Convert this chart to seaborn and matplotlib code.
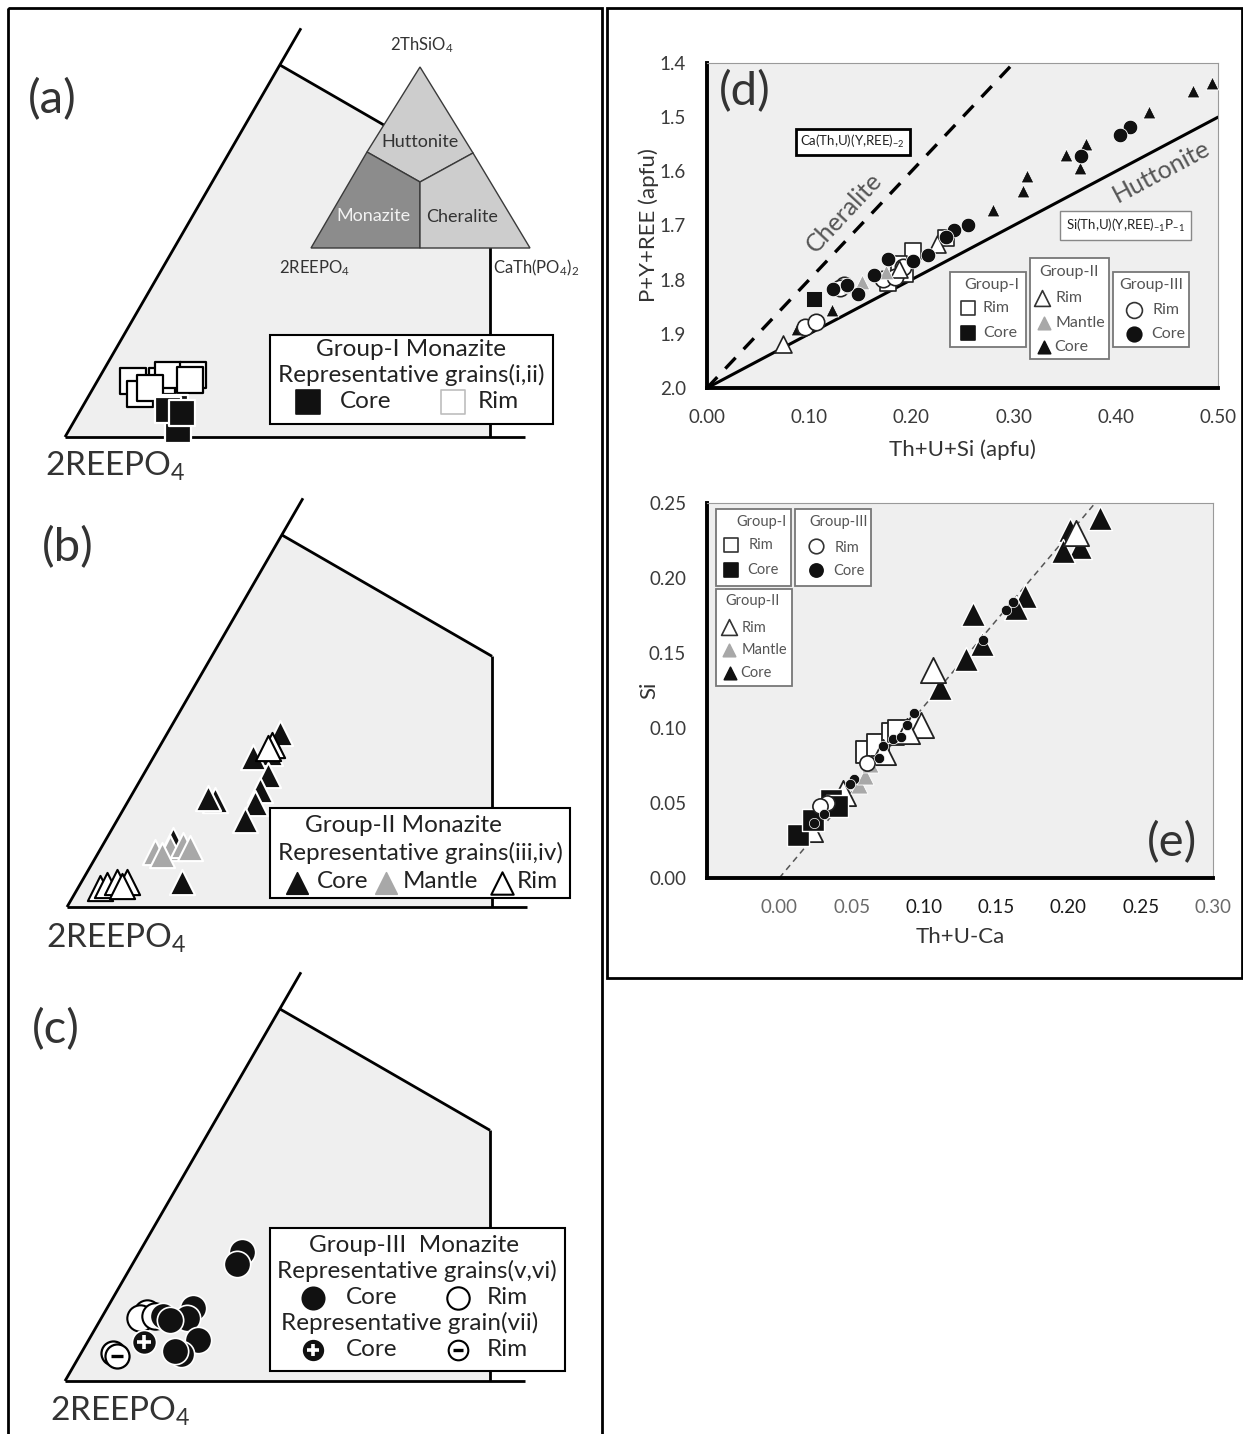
import numpy as np
import pandas as pd
import matplotlib
matplotlib.use("Agg")
import matplotlib.pyplot as plt
from matplotlib.patches import Rectangle, Polygon
import seaborn as sns

sns.set_style("white")
plt.rcParams["font.family"] = ["Lato", "DejaVu Sans"]
plt.rcParams["mathtext.fontset"] = "custom"
plt.rcParams["mathtext.rm"] = "Lato"
plt.rcParams["mathtext.it"] = "Lato:italic"
plt.rcParams["mathtext.bf"] = "Lato:bold"

# ---------------------------------------------------------------------------
# Ternary compositions (mol %): ThSiO4 and CaTh(PO4)2, remainder 2REEPO4
# ---------------------------------------------------------------------------
# (a) Group-I
a_rim_thsio4 = [7.03, 5.39, 7.03, 7.78, 7.78, 7.16, 6.15]
a_rim_cath = [3.87, 5.45, 7.03, 7.31, 10.02, 10.01, 6.16]
a_core_thsio4 = [3.64, 0.88, 3.39, 3.01]
a_core_cath = [10.14, 11.84, 9.50, 11.21]

# (b) Group-II
b_core_thsio4 = [21.84, 19.33, 18.83, 16.57, 14.69, 13.05, 10.92, 13.43, 13.68, 3.14, 8.41]
b_core_cath = [12.23, 12.40, 10.81, 13.56, 13.63, 13.91, 13.89, 9.37, 8.49, 10.93, 7.32]
b_mantle_thsio4 = [6.90, 7.40, 7.78, 7.40, 6.52]
b_mantle_cath = [6.12, 7.50, 8.72, 9.67, 7.07]
b_rim_thsio4 = [20.33, 19.95, 2.39, 2.76, 3.14, 3.14, 2.64]
b_rim_cath = [12.12, 11.87, 2.39, 2.97, 3.86, 4.95, 4.66]

# (c) Group-III
c_core_thsio4 = [16.19, 14.69, 9.16, 7.91, 8.16, 5.15, 3.39, 3.76, 7.66]
c_core_cath = [11.15, 11.35, 9.33, 9.30, 6.57, 11.88, 10.92, 10.08, 7.58]
c_rim_thsio4 = [8.54, 7.91, 8.16]
c_rim_cath = [4.64, 4.20, 5.70]
c_vii_core_thsio4 = [4.90]
c_vii_core_cath = [6.14]
c_vii_rim_thsio4 = [3.51, 3.14]
c_vii_rim_cath = [3.47, 4.08]

# ---------------------------------------------------------------------------
# (d) Th+U+Si vs P+Y+REE (apfu)
# ---------------------------------------------------------------------------
d_g1_rim_x = [0.202, 0.177, 0.194, 0.188, 0.234]
d_g1_rim_y = [1.748, 1.807, 1.789, 1.772, 1.724]
d_g1_core_x = [0.105]
d_g1_core_y = [1.835]
d_g2_rim_x = [0.074, 0.225, 0.188]
d_g2_rim_y = [1.919, 1.735, 1.780]
d_g2_mantle_x = [0.152, 0.175, 0.140]
d_g2_mantle_y = [1.804, 1.785, 1.812]
d_g2_core_x = [0.494, 0.476, 0.432, 0.371, 0.351, 0.365, 0.313, 0.309, 0.280, 0.122, 0.088]
d_g2_core_y = [1.437, 1.451, 1.491, 1.550, 1.570, 1.593, 1.608, 1.637, 1.671, 1.856, 1.891]
d_g3_rim_x = [0.096, 0.107, 0.134, 0.172, 0.184, 0.192, 0.130]
d_g3_rim_y = [1.887, 1.878, 1.809, 1.798, 1.796, 1.776, 1.815]
d_g3_core_x = [0.414, 0.404, 0.366, 0.255, 0.242, 0.234, 0.216, 0.202, 0.177, 0.163, 0.148, 0.137, 0.123]
d_g3_core_y = [1.519, 1.533, 1.571, 1.700, 1.708, 1.721, 1.755, 1.765, 1.761, 1.791, 1.826, 1.809, 1.817]

# ---------------------------------------------------------------------------
# (e) Th+U-Ca vs Si
# ---------------------------------------------------------------------------
e_g2_core_x = [0.222, 0.201, 0.208, 0.196, 0.170, 0.164, 0.134, 0.140, 0.129, 0.111]
e_g2_core_y = [0.240, 0.232, 0.221, 0.218, 0.188, 0.180, 0.176, 0.156, 0.146, 0.127]
e_g2_rim_x = [0.106, 0.205, 0.093, 0.098, 0.088, 0.044, 0.021, 0.072]
e_g2_rim_y = [0.139, 0.230, 0.104, 0.102, 0.098, 0.057, 0.033, 0.084]
e_g2_mantle_x = [0.055, 0.059, 0.063]
e_g2_mantle_y = [0.062, 0.068, 0.076]
e_g1_rim_x = [0.061, 0.068, 0.079, 0.083]
e_g1_rim_y = [0.084, 0.089, 0.096, 0.098]
e_g1_core_x = [0.013, 0.036, 0.023, 0.040]
e_g1_core_y = [0.029, 0.052, 0.039, 0.048]
e_g3_rim_x = [0.033, 0.028, 0.061]
e_g3_rim_y = [0.050, 0.048, 0.077]
e_g3_core_x = [0.162, 0.157, 0.141, 0.093, 0.088, 0.079, 0.084, 0.072, 0.069, 0.052, 0.049, 0.031, 0.024]
e_g3_core_y = [0.184, 0.179, 0.159, 0.110, 0.102, 0.093, 0.094, 0.088, 0.080, 0.066, 0.063, 0.043, 0.037]

# ---------------------------------------------------------------------------
W, H = 1243, 1434
fig = plt.figure(figsize=(W / 100, H / 100), dpi=100)


def rect(l, t, r, b):
    return [l / W, 1 - b / H, (r - l) / W, (b - t) / H]


SCALE = 9.2             # pixels per mol %
SQ3 = np.sqrt(3) / 2
BLACK = "#111111"
GREY_MK = "#a8a8a8"
REEPO4 = r"2REEPO$_\mathregular{4}$"


def to_cart(thsio4, cath):
    b = np.asarray(thsio4, float)
    c = np.asarray(cath, float)
    return c + b / 2, b * SQ3


def ternary_axes(x0, y0, top, bottom, left=12, right=600):
    ax = fig.add_axes(rect(left, top, right, bottom))
    edge_top, cut_b, cut_x, base_end = 51.3, 46.7, 46.2, 50.0
    tx, ty = edge_top / 2, edge_top * SQ3
    cx, cy = cut_b / 2, cut_b * SQ3
    ey = cy - (cut_x - cx) * np.tan(np.radians(30))
    ax.add_patch(Polygon([(0, 0), (cx, cy), (cut_x, ey), (cut_x, 0)],
                         closed=True, fc="#efefef", ec="none", zorder=0))
    kw = dict(color="black", lw=2.0, solid_capstyle="butt", zorder=1)
    ax.plot([0, tx], [0, ty], **kw)
    ax.plot([cx, cut_x], [cy, ey], **kw)
    ax.plot([cut_x, cut_x], [ey, 0], **kw)
    ax.plot([0, base_end], [0, 0], **kw)
    ax.lims = ((left - x0) / SCALE, (right - x0) / SCALE,
               (y0 - bottom) / SCALE, (y0 - top) / SCALE)
    return ax


def finish_ternary(ax):
    ax.set_xlim(ax.lims[0], ax.lims[1])
    ax.set_ylim(ax.lims[2], ax.lims[3])
    ax.axis("off")


def tern_scatter(ax, thsio4, cath, zorder=3, **kw):
    x, y = to_cart(thsio4, cath)
    df = pd.DataFrame({"x": x, "y": y})
    sns.scatterplot(data=df, x="x", y="y", ax=ax, legend=False, zorder=zorder, **kw)
    return x, y


# ---- (a) ----
axa = ternary_axes(65, 437, 10, 480)
tern_scatter(axa, a_rim_thsio4, a_rim_cath, marker="s", s=330, color="white",
             edgecolor="black", linewidth=1.6)
tern_scatter(axa, a_core_thsio4, a_core_cath, marker="s", s=330, color=BLACK,
             edgecolor="white", linewidth=1.6)
finish_ternary(axa)

# ---- (b) ----
axb = ternary_axes(67, 907, 490, 950)
tern_scatter(axb, b_core_thsio4, b_core_cath, marker="^", s=330, color=BLACK,
             edgecolor="white", linewidth=1.5)
tern_scatter(axb, b_mantle_thsio4, b_mantle_cath, marker="^", s=330, color=GREY_MK,
             edgecolor="white", linewidth=1.5)
tern_scatter(axb, b_rim_thsio4, b_rim_cath, marker="^", s=330, color="white",
             edgecolor="black", linewidth=1.5)
finish_ternary(axb)

# ---- (c) ----
axc = ternary_axes(65, 1381, 960, 1425)
tern_scatter(axc, c_rim_thsio4, c_rim_cath, marker="o", s=360, color="white",
             edgecolor="black", linewidth=1.5)
tern_scatter(axc, c_core_thsio4, c_core_cath, marker="o", s=360, color=BLACK,
             edgecolor="white", linewidth=1.2)
px_, py_ = tern_scatter(axc, c_vii_core_thsio4, c_vii_core_cath, marker="o", s=300,
                        color=BLACK, edgecolor="white", linewidth=1.2, zorder=5)
axc.scatter(px_, py_, marker="+", s=110, color="white", linewidths=2.6, zorder=6)
# grain (vii) rims: each circle carries its own minus sign
for i, (bb, cc) in enumerate(zip(c_vii_rim_thsio4, c_vii_rim_cath)):
    mx_, my_ = tern_scatter(axc, [bb], [cc], marker="o", s=300, color="white",
                            edgecolor="black", linewidth=1.6, zorder=5 + 2 * i)
    axc.scatter(mx_, my_, marker="_", s=70, color="black", linewidths=2.4,
                zorder=6 + 2 * i)
finish_ternary(axc)


# ---------------------------------------------------------------------------
def style_axes(ax):
    for s in ("left", "bottom"):
        ax.spines[s].set_color("black")
        ax.spines[s].set_linewidth(2.8)
    for s in ("top", "right"):
        ax.spines[s].set_color("#9a9a9a")
        ax.spines[s].set_linewidth(0.8)
    ax.tick_params(direction="inout", length=12, width=2.8, color="black",
                   labelsize=13.5, labelcolor="#3a3a3a", pad=9)
    ax.tick_params(top=False, right=False)
    ax.set_facecolor("#efefef")


def xy_scatter(ax, xs, ys, **kw):
    df = pd.DataFrame({"x": xs, "y": ys})
    sns.scatterplot(data=df, x="x", y="y", ax=ax, legend=False, zorder=3,
                    clip_on=False, **kw)


# ---- (d) ----
axd = fig.add_axes(rect(707, 63, 1218, 388))
axd.plot([0, 0.5], [2.0, 1.5], color="black", lw=2.2, zorder=2)
axd.plot([0, 0.3], [2.0, 1.4], color="black", lw=2.4, ls=(0, (4.5, 3.5)), zorder=2)
xy_scatter(axd, d_g2_core_x, d_g2_core_y, marker="^", s=85, color=BLACK,
           edgecolor="white", linewidth=0.6)
xy_scatter(axd, d_g1_rim_x, d_g1_rim_y, marker="s", s=140, color="white",
           edgecolor="#222", linewidth=1.2)
xy_scatter(axd, d_g3_rim_x, d_g3_rim_y, marker="o", s=140, color="white",
           edgecolor="#222", linewidth=1.2)
xy_scatter(axd, d_g2_rim_x, d_g2_rim_y, marker="^", s=150, color="white",
           edgecolor="#222", linewidth=1.2)
xy_scatter(axd, d_g2_mantle_x, d_g2_mantle_y, marker="^", s=110, color=GREY_MK,
           edgecolor="white", linewidth=0.6)
xy_scatter(axd, d_g1_core_x, d_g1_core_y, marker="s", s=120, color=BLACK,
           edgecolor="white", linewidth=0.6)
xy_scatter(axd, d_g3_core_x, d_g3_core_y, marker="o", s=110, color=BLACK,
           edgecolor="white", linewidth=0.6)
axd.set_xlim(0, 0.5)
axd.set_ylim(2.0, 1.4)
axd.set_xticks(np.arange(0, 0.501, 0.1))
axd.set_xticklabels([f"{v:.2f}" for v in np.arange(0, 0.501, 0.1)])
axd.set_yticks(np.arange(1.4, 2.001, 0.1))
axd.set_yticklabels([f"{v:.1f}" for v in np.arange(1.4, 2.001, 0.1)])
style_axes(axd)
axd.set_xlabel("Th+U+Si (apfu)", fontsize=16, color="#333", labelpad=10)
axd.set_ylabel("P+Y+REE (apfu)", fontsize=16, color="#333")
axd.yaxis.set_label_coords(-0.094, 0.5)
axd.text(0.1345, 1.677, "Cheralite", rotation=47, fontsize=18, color="#555",
         ha="center", va="center")
axd.text(0.445, 1.600, "Huttonite", rotation=28, fontsize=18, color="#555",
         ha="center", va="center")
axd.text(0.1424, 1.5455, r"Ca(Th,U)(Y,REE)$_{\mathregular{-2}}$", fontsize=9.5,
         color="#222", ha="center", va="center",
         bbox=dict(boxstyle="square,pad=0.35", fc="white", ec="black", lw=2))
axd.text(0.4096, 1.700, r"Si(Th,U)(Y,REE)$_{\mathregular{-1}}$P$_{\mathregular{-1}}$",
         fontsize=9.5, color="#222", ha="center", va="center",
         bbox=dict(boxstyle="square,pad=0.45", fc="white", ec="#888", lw=1))

# ---- (e) ----
axe = fig.add_axes(rect(707, 503, 1213, 878))
axe.plot([0.0, 0.2185], [0.0, 0.25], color="#555", lw=1.1, ls=(0, (4, 3)), zorder=2)
xy_scatter(axe, e_g2_core_x, e_g2_core_y, marker="^", s=300, color=BLACK,
           edgecolor="white", linewidth=1.0)
xy_scatter(axe, e_g1_rim_x, e_g1_rim_y, marker="s", s=260, color="white",
           edgecolor="#222", linewidth=1.3)
xy_scatter(axe, e_g2_rim_x, e_g2_rim_y, marker="^", s=330, color="white",
           edgecolor="#222", linewidth=1.3)
xy_scatter(axe, e_g1_core_x, e_g1_core_y, marker="s", s=260, color=BLACK,
           edgecolor="white", linewidth=1.0)
xy_scatter(axe, e_g2_mantle_x, e_g2_mantle_y, marker="^", s=150, color=GREY_MK,
           edgecolor="white", linewidth=0.6)
xy_scatter(axe, e_g3_rim_x, e_g3_rim_y, marker="o", s=120, color="white",
           edgecolor="#222", linewidth=1.2)
xy_scatter(axe, e_g3_core_x, e_g3_core_y, marker="o", s=55, color=BLACK,
           edgecolor="white", linewidth=0.5)
axe.set_xlim(-0.05, 0.30)
axe.set_ylim(0, 0.25)
xt = np.arange(-0.05, 0.301, 0.05)
axe.set_xticks(xt)
axe.set_xticklabels([""] + [f"{v:.2f}" for v in xt[1:]])
axe.set_yticks(np.arange(0, 0.251, 0.05))
axe.set_yticklabels([f"{v:.2f}" for v in np.arange(0, 0.251, 0.05)])
style_axes(axe)
for lab in axe.get_xticklabels():
    if lab.get_text() in ("0.00", "0.05", "0.30"):
        lab.set_color("#6a6a6a")
    else:
        lab.set_color("#1a1a1a")
axe.set_xlabel("Th+U-Ca", fontsize=16, color="#333", labelpad=8)
axe.set_ylabel("Si", fontsize=16, color="#333")
axe.yaxis.set_label_coords(-0.095, 0.5)

# ---------------------------------------------------------------------------
# Frames, inset, legends and panel letters
# ---------------------------------------------------------------------------
cv = fig.add_axes([0, 0, 1, 1])
cv.set_xlim(0, W)
cv.set_ylim(H, 0)
cv.axis("off")
cv.set_zorder(10)
cv.patch.set_alpha(0)

cv.add_patch(Rectangle((8, 8), 594, 1440, fill=False, ec="black", lw=2))
cv.add_patch(Rectangle((607, 8), 635, 970, fill=False, ec="black", lw=2))


def box(l, t, r, b, ec="black", lw=1.5):
    cv.add_patch(Rectangle((l, t), r - l, b - t, fc="white", ec=ec, lw=lw, zorder=2))


def key(x, y, marker, fc, ec, s, lw=1.2):
    cv.scatter([x], [y], marker=marker, s=s, c=[fc], edgecolors=[ec],
               linewidths=lw, zorder=3)


def txt(x, y, t, size, ha="left", color="#222", **kw):
    cv.text(x, y, t, fontsize=size, ha=ha, va="center", color=color, zorder=4, **kw)


# inset classification triangle
T, BL, BR = (420, 67), (311, 248), (530, 248)
ML, MR, G, MB = (367, 152), (473, 153), (420, 182), (420, 248)
for pts, col in (([T, MR, G, ML], "#cdcdcd"), ([BL, ML, G, MB], "#8c8c8c"),
                 ([BR, MB, G, MR], "#cdcdcd")):
    cv.add_patch(Polygon(pts, closed=True, fc=col, ec="#3a3a3a", lw=1.0, zorder=2))
txt(420, 142, "Huttonite", 13, "center", "#333")
txt(373, 216, "Monazite", 13, "center", "#f2f2f2")
txt(462, 217, "Cheralite", 13, "center", "#333")
txt(422, 45, r"2ThSiO$_\mathregular{4}$", 12, "center", "#333")
txt(315, 268, REEPO4, 12, "center", "#333")
txt(493, 268, r"CaTh(PO$_\mathregular{4}$)$_\mathregular{2}$", 12, "left", "#333")

# panel letters and apex labels
txt(52, 100, "(a)", 34, "center", "#333")
txt(68, 548, "(b)", 34, "center", "#333")
txt(56, 1030, "(c)", 34, "center", "#333")
txt(745, 92, "(d)", 34, "center", "#333")
txt(1172, 843, "(e)", 34, "center", "#333")
txt(45, 466, REEPO4, 24, "left", "#333")
txt(46, 938, REEPO4, 24, "left", "#333")
txt(50, 1411, REEPO4, 24, "left", "#333")

# (a) legend
FS = 17.5
box(270, 335, 553, 424)
txt(411, 349, "Group-I Monazite", FS, "center")
txt(411, 375, "Representative grains(i,ii)", FS, "center")
key(308, 402, "s", BLACK, BLACK, 300)
txt(340, 402, "Core", FS)
key(453, 402, "s", "white", "#bdbdbd", 300)
txt(478, 402, "Rim", FS)

# (b) legend
box(270, 808, 570, 898)
txt(403, 825, "Group-II Monazite", FS, "center")
txt(420, 853, "Representative grains(iii,iv)", FS, "center")
key(297, 883, "^", BLACK, BLACK, 240)
txt(317, 882, "Core", FS)
key(386, 883, "^", GREY_MK, GREY_MK, 240)
txt(403, 882, "Mantle", FS)
key(502, 883, "^", "white", "black", 260, 1.5)
txt(517, 882, "Rim", FS)

# (c) legend
box(270, 1228, 565, 1371)
txt(414, 1245, "Group-III  Monazite", FS, "center")
txt(417, 1271, "Representative grains(v,vi)", FS, "center")
key(313, 1298, "o", BLACK, BLACK, 260)
txt(346, 1298, "Core", FS)
key(458, 1298, "o", "white", "black", 260, 1.5)
txt(487, 1298, "Rim", FS)
txt(410, 1323, "Representative grain(vii)", FS, "center")
key(313, 1350, "o", BLACK, BLACK, 200)
cv.scatter([313], [1350], marker="+", s=80, color="white", linewidths=2.6, zorder=4)
txt(346, 1350, "Core", FS)
key(458, 1350, "o", "white", "black", 200, 1.5)
cv.scatter([458], [1350], marker="_", s=55, color="black", linewidths=2.4, zorder=4)
txt(487, 1350, "Rim", FS)

# (d) legends
LG = "#555"
box(950, 272, 1026, 347, ec="#777", lw=1.3)
txt(992, 285, "Group-I", 11.5, "center", LG)
key(968, 308, "s", "white", "#333", 110)
txt(983, 308, "Rim", 11.5, color=LG)
key(968, 333, "s", BLACK, BLACK, 110)
txt(983, 333, "Core", 11.5, color=LG)
box(1030, 258, 1109, 359, ec="#777", lw=1.3)
txt(1069, 272, "Group-II", 11.5, "center", LG)
key(1042, 298, "^", "white", "#333", 130)
txt(1056, 298, "Rim", 11.5, color=LG)
key(1044, 323, "^", GREY_MK, GREY_MK, 80)
txt(1056, 323, "Mantle", 11.5, color=LG)
key(1044, 347, "^", BLACK, BLACK, 80)
txt(1054, 347, "Core", 11.5, color=LG)
box(1113, 272, 1189, 347, ec="#777", lw=1.3)
txt(1151, 285, "Group-III", 11.5, "center", LG)
key(1134, 310, "o", "white", "#333", 130)
txt(1153, 310, "Rim", 11.5, color=LG)
key(1134, 334, "o", BLACK, BLACK, 110)
txt(1151, 334, "Core", 11.5, color=LG)

# (e) legends
box(716, 509, 791, 586, ec="#777", lw=1.3)
txt(762, 522, "Group-I", 10.5, "center", LG)
key(731, 545, "s", "white", "#333", 110)
txt(749, 545, "Rim", 10.5, color=LG)
key(731, 570, "s", BLACK, BLACK, 110)
txt(747, 570, "Core", 10.5, color=LG)
box(795, 509, 871, 586, ec="#777", lw=1.3)
txt(839, 522, "Group-III", 10.5, "center", LG)
key(816, 546, "o", "white", "#333", 110)
txt(835, 548, "Rim", 10.5, color=LG)
key(816, 570, "o", BLACK, BLACK, 90)
txt(833, 571, "Core", 10.5, color=LG)
box(716, 589, 792, 686, ec="#777", lw=1.3)
txt(753, 601, "Group-II", 10.5, "center", LG)
key(729, 627, "^", "white", "#333", 130)
txt(742, 628, "Rim", 10.5, color=LG)
key(729, 650, "^", GREY_MK, GREY_MK, 80)
txt(742, 650, "Mantle", 10.5, color=LG)
key(730, 673, "^", BLACK, BLACK, 80)
txt(740, 673, "Core", 10.5, color=LG)

fig.savefig("out.png", dpi=100)
